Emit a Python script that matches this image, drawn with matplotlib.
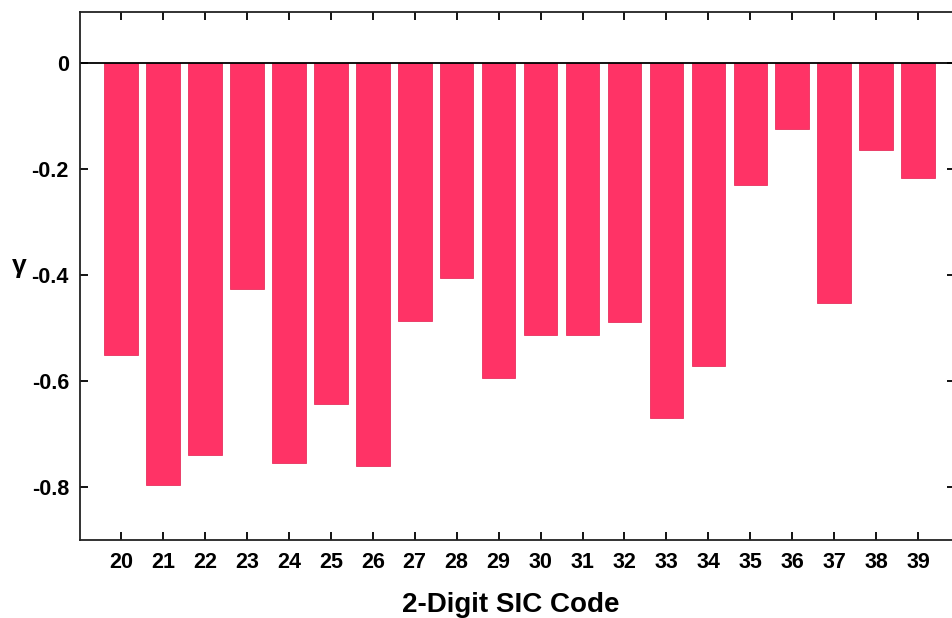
import matplotlib
matplotlib.use("Agg")
import matplotlib.pyplot as plt

# 2-digit SIC codes and the estimated gamma for each
sic_codes = [20, 21, 22, 23, 24, 25, 26, 27, 28, 29,
             30, 31, 32, 33, 34, 35, 36, 37, 38, 39]
gamma = [-0.551, -0.798, -0.741, -0.427, -0.755, -0.644, -0.761, -0.488, -0.406, -0.595,
         -0.514, -0.514, -0.490, -0.670, -0.572, -0.231, -0.124, -0.454, -0.165, -0.218]
y_ticks = [0, -0.2, -0.4, -0.6, -0.8]
y_tick_labels = ["0", "-0.2", "-0.4", "-0.6", "-0.8"]

plt.rcParams["font.family"] = ["Liberation Sans", "DejaVu Sans"]

fig = plt.figure(figsize=(9.52, 6.18), dpi=100)
ax = fig.add_axes([80 / 952, 1 - 539.5 / 618, 875 / 952, 527.5 / 618])

ax.bar(sic_codes, gamma, width=0.8, color="#FF3366", edgecolor="#E8305E", linewidth=0.6)
ax.axhline(0, color="black", linewidth=1.3)

ax.set_xlim(19.02, 39.88)
ax.set_ylim(-0.9, 0.096)
ax.set_xticks(sic_codes)
ax.set_xticklabels([str(c) for c in sic_codes], fontsize=15.5, fontweight="bold")
ax.set_yticks(y_ticks)
ax.set_yticklabels(y_tick_labels, fontsize=15.5, fontweight="bold")

ax.tick_params(axis="both", direction="in", length=6, width=1.3,
               top=True, right=True, color="black")
ax.tick_params(axis="x", pad=9)
ax.tick_params(axis="y", pad=8)
for sp in ax.spines.values():
    sp.set_linewidth(1.3)
    sp.set_color("#222222")

ax.set_xlabel("2-Digit SIC Code", fontsize=20, fontweight="bold", labelpad=14)
ax.xaxis.label.set_x(0.4926)
fig.text(19 / 952, 1 - 266 / 618, "γ", fontsize=19, fontweight="bold",
         ha="center", va="center")

fig.savefig("out.png", dpi=100)
